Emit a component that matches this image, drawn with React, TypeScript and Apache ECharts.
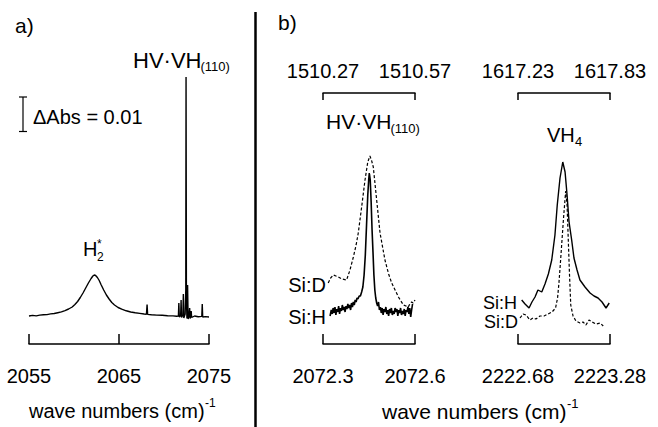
import React, { useEffect, useRef } from "react";
import * as echarts from "echarts";

const FONT = "'Liberation Sans', Arial, Helvetica, sans-serif";

// ---- tick values / labels ----
const aTickValues = [2055, 2065, 2075];
const aTickLabels = ["2055", "2065", "2075"];
const bLeftBottomTicks = [2072.3, 2072.6];
const bLeftBottomLabels = ["2072.3", "2072.6"];
const bLeftTopTicks = [1510.27, 1510.57];
const bLeftTopLabels = ["1510.27", "1510.57"];
const bRightBottomTicks = [2222.68, 2223.28];
const bRightBottomLabels = ["2222.68", "2223.28"];
const bRightTopTicks = [1617.23, 1617.83];
const bRightTopLabels = ["1617.23", "1617.83"];

// ---- panel a: survey spectrum (wavenumber, absorbance in arbitrary units) ----
const aSpectrum: [number, number][] = [
  [2055.0, 4.0], [2055.4, 4.6], [2055.8, 4.1], [2056.2, 4.9], [2056.6, 5.2], [2057.0, 5.4],
  [2057.4, 6.1], [2057.8, 6.5], [2058.2, 7.3], [2058.6, 8.1], [2059.0, 9.4], [2059.4, 11.0],
  [2059.8, 13.0], [2060.1, 15.5], [2060.4, 18.5], [2060.7, 22.5], [2061.0, 27.0], [2061.3, 32.0],
  [2061.6, 37.0], [2061.9, 41.5], [2062.1, 44.0], [2062.25, 45.0], [2062.4, 44.5], [2062.6, 42.5],
  [2062.8, 39.5], [2063.0, 35.5], [2063.3, 30.0], [2063.6, 25.0], [2063.9, 21.0], [2064.2, 17.5],
  [2064.5, 15.0], [2064.9, 12.5], [2065.3, 10.8], [2065.8, 9.2], [2066.3, 8.0], [2066.8, 7.2],
  [2067.3, 6.6], [2067.8, 6.0], [2068.05, 5.8], [2068.12, 15.5], [2068.18, 5.6], [2068.6, 5.3],
  [2069.2, 4.9], [2069.8, 4.7], [2070.4, 4.3], [2071.0, 4.1], [2071.4, 3.8], [2071.6, 4.0],
  [2071.65, 17.0], [2071.7, 3.0], [2071.85, 4.5], [2071.9, 20.0], [2071.95, 2.5], [2072.1, 5.0],
  [2072.15, 26.0], [2072.2, 2.0], [2072.35, 6.0], [2072.42, 30.0], [2072.45, 243.0], [2072.49, 22.0],
  [2072.55, 1.5], [2072.62, 35.0], [2072.68, 1.0], [2072.8, 5.0], [2072.85, 12.0], [2072.9, 1.5],
  [2072.97, 4.0], [2073.02, 9.0], [2073.07, 2.5], [2073.4, 4.0], [2073.8, 3.2], [2074.2, 3.6],
  [2074.25, 16.0], [2074.3, 3.0], [2074.6, 3.4], [2075.0, 3.0],
];

// ---- panel b left: HV·VH(110) ----
const hvSiH: [number, number][] = [
  [2072.323, 4], [2072.327, 10], [2072.330, 6], [2072.333, 12], [2072.336, 7], [2072.339, 13],
  [2072.342, 5], [2072.345, 11], [2072.348, 8], [2072.351, 14], [2072.354, 6], [2072.357, 12],
  [2072.360, 9], [2072.363, 15], [2072.366, 10], [2072.369, 13], [2072.372, 8], [2072.375, 14],
  [2072.378, 11], [2072.381, 16], [2072.384, 12], [2072.387, 15], [2072.390, 10], [2072.393, 17],
  [2072.396, 13], [2072.399, 18], [2072.402, 15], [2072.405, 20], [2072.408, 18], [2072.411, 22],
  [2072.414, 21], [2072.418, 24], [2072.422, 24], [2072.426, 28], [2072.430, 33], [2072.434, 45],
  [2072.438, 65], [2072.442, 95], [2072.446, 125], [2072.449, 140], [2072.451, 147], [2072.454, 140],
  [2072.457, 118], [2072.460, 90], [2072.463, 68], [2072.466, 45], [2072.469, 30], [2072.472, 22],
  [2072.475, 17], [2072.478, 14], [2072.481, 18], [2072.484, 10], [2072.487, 13], [2072.490, 7],
  [2072.493, 12], [2072.496, 5], [2072.499, 11], [2072.502, 8], [2072.505, 13], [2072.508, 6],
  [2072.511, 10], [2072.514, 4], [2072.517, 11], [2072.520, 7], [2072.523, 12], [2072.526, 5],
  [2072.529, 9], [2072.532, 6], [2072.535, 12], [2072.538, 8], [2072.541, 11], [2072.544, 4],
  [2072.547, 10], [2072.550, 7], [2072.553, 12], [2072.556, 5], [2072.559, 9], [2072.562, 6],
  [2072.565, 11], [2072.568, 4], [2072.571, 10], [2072.574, 8], [2072.577, 13], [2072.580, 6],
  [2072.583, 12], [2072.586, 3], [2072.589, 10], [2072.592, 16],
];
const hvSiD: [number, number][] = [
  [2072.317, 37], [2072.325, 42], [2072.334, 45], [2072.342, 44], [2072.350, 43], [2072.362, 41],
  [2072.377, 40], [2072.388, 50], [2072.399, 63], [2072.408, 75], [2072.415, 87], [2072.426, 113],
  [2072.437, 140], [2072.446, 158], [2072.453, 164], [2072.458, 160], [2072.464, 153], [2072.475, 120],
  [2072.486, 87], [2072.502, 60], [2072.514, 46], [2072.524, 37], [2072.546, 23], [2072.562, 15],
  [2072.578, 13], [2072.583, 16], [2072.589, 18], [2072.594, 17], [2072.600, 20],
];

// ---- panel b right: VH4 ----
const vhSiH: [number, number][] = [
  [2222.704, 20], [2222.726, 16], [2222.752, 12], [2222.771, 18], [2222.791, 23], [2222.810, 30],
  [2222.835, 28], [2222.856, 36], [2222.878, 46], [2222.900, 60], [2222.921, 85], [2222.936, 115],
  [2222.954, 142], [2222.972, 158], [2222.987, 148], [2223.000, 125], [2223.013, 98], [2223.030, 80],
  [2223.045, 62], [2223.065, 50], [2223.084, 40], [2223.117, 33], [2223.150, 27], [2223.176, 24],
  [2223.202, 22], [2223.228, 18], [2223.254, 12], [2223.275, 17],
];
const vhSiD: [number, number][] = [
  [2222.693, 2], [2222.713, 6], [2222.732, 5], [2222.758, 0], [2222.778, 2], [2222.797, 1],
  [2222.823, 4], [2222.850, 4], [2222.876, 6], [2222.902, 8], [2222.925, 12], [2222.938, 22],
  [2222.947, 37], [2222.957, 58], [2222.967, 80], [2222.977, 102], [2222.991, 129], [2223.000, 115],
  [2223.008, 80], [2223.016, 45], [2223.024, 15], [2223.039, 4], [2223.058, -1], [2223.084, -3],
  [2223.104, -2], [2223.123, -5], [2223.143, 0], [2223.163, -2], [2223.189, -4], [2223.215, -3],
  [2223.236, -6],
];

function bracketAxis(
  gridIndex: number,
  ticks: number[],
  labels: string[],
  position: "top" | "bottom",
  offset: number,
  tickLen: number,
  margin: number
) {
  const fmt = (v: number) => {
    const i = ticks.findIndex((t) => Math.abs(t - v) < 1e-6);
    return i >= 0 ? labels[i] : "";
  };
  return {
    type: "value",
    gridIndex,
    min: ticks[0],
    max: ticks[ticks.length - 1],
    position,
    offset,
    axisLine: { show: true, onZero: false, lineStyle: { color: "#000", width: 1.5 } },
    axisTick: { show: true, inside: true, length: tickLen, customValues: ticks, lineStyle: { color: "#000", width: 1.5 } },
    axisLabel: {
      show: true,
      customValues: ticks,
      margin,
      color: "#000",
      fontSize: 20,
      fontFamily: FONT,
      formatter: fmt,
      showMinLabel: true,
      showMaxLabel: true,
      hideOverlap: false,
    },
    splitLine: { show: false },
  };
}

function hiddenY(gridIndex: number) {
  return { type: "value", gridIndex, min: -10, max: 250, show: false, splitLine: { show: false } };
}

function txt(
  text: string,
  x: number,
  y: number,
  size: number,
  align: "left" | "right" | "center" = "left",
  lineHeight?: number
) {
  return {
    type: "text",
    x,
    y,
    silent: true,
    style: {
      text,
      fontSize: size,
      fontFamily: FONT,
      fill: "#000",
      align,
      verticalAlign: "middle",
      lineHeight: lineHeight ?? size,
    },
  };
}

function seg(x1: number, y1: number, x2: number, y2: number, w: number) {
  return { type: "line", silent: true, shape: { x1, y1, x2, y2 }, style: { stroke: "#000", lineWidth: w } };
}

export default function App() {
  const ref = useRef<HTMLDivElement>(null);

  useEffect(() => {
    if (!ref.current) return;
    const chart = echarts.init(ref.current, undefined, { renderer: "svg" });
    const gridBase = { outerBoundsMode: "none", containLabel: false };
    chart.setOption({
      animation: false,
      backgroundColor: "#fff",
      grid: [
        { ...gridBase, left: 29, width: 180, top: 70, height: 260 },
        { ...gridBase, left: 323, width: 92, top: 70, height: 260 },
        { ...gridBase, left: 518, width: 92, top: 70, height: 260 },
        { ...gridBase, left: 323, width: 92, top: 93, height: 1 },
        { ...gridBase, left: 518, width: 92, top: 93, height: 1 },
      ],
      xAxis: [
        bracketAxis(0, aTickValues, aTickLabels, "bottom", 14, 10, 22),
        bracketAxis(1, bLeftBottomTicks, bLeftBottomLabels, "bottom", 14, 10, 22),
        bracketAxis(2, bRightBottomTicks, bRightBottomLabels, "bottom", 14, 10, 22),
        bracketAxis(3, bLeftTopTicks, bLeftTopLabels, "top", 0, 7, 12),
        bracketAxis(4, bRightTopTicks, bRightTopLabels, "top", 0, 7, 12),
      ],
      yAxis: [hiddenY(0), hiddenY(1), hiddenY(2), hiddenY(3), hiddenY(4)],
      series: [
        {
          type: "line", xAxisIndex: 0, yAxisIndex: 0, data: aSpectrum, showSymbol: false, symbol: "none",
          lineStyle: { color: "#000", width: 1.4 }, clip: false, silent: true,
        },
        {
          type: "line", xAxisIndex: 1, yAxisIndex: 1, data: hvSiD, showSymbol: false, symbol: "none",
          lineStyle: { color: "#000", width: 1.2, type: [3, 2] }, clip: false, silent: true,
        },
        {
          type: "line", xAxisIndex: 1, yAxisIndex: 1, data: hvSiH, showSymbol: false, symbol: "none",
          lineStyle: { color: "#000", width: 1.6 }, clip: false, silent: true,
        },
        {
          type: "line", xAxisIndex: 2, yAxisIndex: 2, data: vhSiH, showSymbol: false, symbol: "none",
          lineStyle: { color: "#000", width: 1.4 }, clip: false, silent: true,
        },
        {
          type: "line", xAxisIndex: 2, yAxisIndex: 2, data: vhSiD, showSymbol: false, symbol: "none",
          lineStyle: { color: "#000", width: 1.2, type: [3, 2] }, clip: false, silent: true,
        },
      ],
      graphic: [
        seg(255.5, 12, 255.5, 427, 2.5),
        // scale bar
        seg(23, 97, 23, 131.5, 1.2),
        seg(19, 97, 27, 97, 1.2),
        seg(19, 131.5, 27, 131.5, 1.2),
        txt("ΔAbs = 0.01", 33, 117, 20),
        txt("a)", 15, 25, 21),
        txt("b)", 278, 22, 21),
        txt("HV·VH", 133, 60, 22),
        txt("(110)", 200.5, 66, 13),
        txt("H", 83, 248.5, 20),
        txt("2", 97, 257, 12),
        txt("*", 97, 244, 12),
        txt("wave numbers (cm)", 29, 411, 20),
        txt("-1", 205, 403, 12),
        txt("HV·VH", 326, 121, 21),
        txt("(110)", 390.5, 128, 13),
        txt("VH", 547, 134.5, 20),
        txt("4", 575, 141, 13),
        txt("Si:D", 326, 285, 20, "right", 16),
        txt("Si:H", 326, 316.5, 20, "right", 16),
        txt("Si:H", 517, 302.5, 18, "right", 16),
        txt("Si:D", 518, 322, 18, "right", 16),
        txt("wave numbers (cm)", 382, 411, 21),
        txt("-1", 567, 403, 13),
      ],
    });
    return () => chart.dispose();
  }, []);

  return (
    <div
      ref={ref}
      style={{ position: "fixed", left: 0, top: 0, width: 658, height: 427, background: "#fff" }}
    />
  );
}
